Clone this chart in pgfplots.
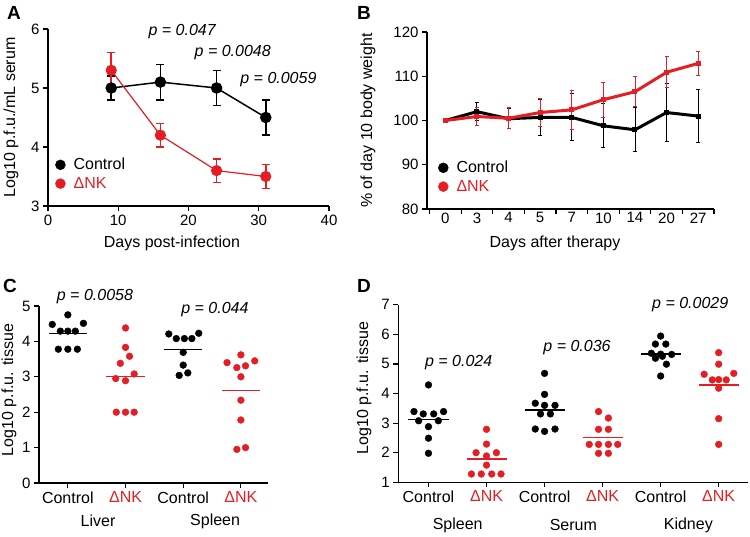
\documentclass[border=0pt]{standalone}
\usepackage{fontspec}
\setmainfont{Liberation Sans}
\usepackage{pgfplots}
\pgfplotsset{compat=1.18}
\definecolor{myred}{RGB}{228,30,36}

\pgfplotsset{
  panel/.style={scale only axis, anchor=south west,
    axis x line*=bottom, axis y line*=left,
    axis line style={line width=1.2pt},
    every tick/.style={line width=1.2pt, black},
    major tick length=5pt, tick align=outside,
    tick label style={font=\fontsize{15}{17}\selectfont},
    label style={font=\fontsize{16}{19}\selectfont},
    /pgf/number format/assume math mode=true,
    clip=false},
  dotlegend/.style={legend style={draw=none, fill=none, inner sep=0pt,
      font=\fontsize{16}{19}\selectfont, legend cell align=left, row sep=2pt,
      /tikz/every odd column/.append style={column sep=6pt}},
    legend image code/.code={\fill[##1] (0pt,0pt) circle (5pt);}},
  meanline/.style={line width=1.5pt, no markers, forget plot},
  dots/.style={only marks, mark=*, mark size=3.4pt, forget plot},
}
\newcommand{\pval}{\itshape\fontsize{16}{19}\selectfont}

\begin{document}
\begin{tikzpicture}
\useasboundingbox (0,0) rectangle (750pt,536pt);

% panel letters
\node[font=\bfseries\fontsize{19}{21}\selectfont] at (14pt,523pt) {A};
\node[font=\bfseries\fontsize{19}{21}\selectfont] at (364pt,523pt) {B};
\node[font=\bfseries\fontsize{19}{21}\selectfont] at (10pt,250pt) {C};
\node[font=\bfseries\fontsize{19}{21}\selectfont] at (364pt,250pt) {D};

% ---------- A ----------
\begin{axis}[panel, dotlegend, at={(48pt,330pt)}, width=281pt, height=177pt,
  xmin=0, xmax=40, ymin=3, ymax=6, xtick={0,10,...,40}, ytick={3,4,5,6},
  xlabel={Days post-infection}, ylabel={Log10 p.f.u./mL serum},
  xlabel style={at={(axis description cs:0.441,-0.209)}, anchor=center},
  ylabel style={at={(axis description cs:-0.132,0.5)}, anchor=center},
  legend style={at={(rel axis cs:0.025,0.282)}, anchor=north west}]
\addplot[black, line width=1.5pt, mark=*, mark size=5pt, forget plot,
  error bars/.cd, y dir=both, y explicit,
  error bar style={line width=1.5pt},
  error mark options={rotate=90, mark size=4pt, line width=1.5pt}]
  coordinates {(9,5.0) +- (0,0.2) (16,5.1) +- (0,0.3) (24,5.0) +- (0,0.3) (31,4.5) +- (0,0.3)};
\addplot[myred, line width=1.2pt, mark=*, mark size=5pt, forget plot,
  error bars/.cd, y dir=both, y explicit,
  error bar style={line width=1.5pt},
  error mark options={rotate=90, mark size=4pt, line width=1.5pt}]
  coordinates {(9,5.3) +- (0,0.3) (16,4.2) +- (0,0.2) (24,3.6) +- (0,0.2) (31,3.5) +- (0,0.2)};
\addlegendimage{black}\addlegendentry{Control}
\addlegendimage{myred}\addlegendentry{\textcolor{myred}{ΔNK}}
\node[font=\pval] at (axis cs:19.1,5.95) {p = 0.047};
\node[font=\pval] at (axis cs:26.3,5.6) {p = 0.0048};
\node[font=\pval] at (axis cs:32.8,5.14) {p = 0.0059};
\end{axis}

% ---------- B ----------
\begin{axis}[panel, dotlegend, at={(427pt,327pt)}, width=287pt, height=177pt,
  xmin=-0.58, xmax=8.5, ymin=80, ymax=120, ytick={80,90,...,120},
  xtick={-0.5,0.5,...,8.5}, xticklabels={,,,,,,,,,,},
  extra x ticks={0,1,...,8}, extra x tick labels={0,3,4,5,7,10,14,20,27},
  extra x tick style={major tick length=0pt},
  xlabel={Days after therapy}, ylabel={\% of day 10 body weight},
  xlabel style={at={(axis description cs:0.446,-0.192)}, anchor=center},
  ylabel style={at={(axis description cs:-0.206,0.5)}, anchor=center},
  legend style={at={(rel axis cs:0.038,0.282)}, anchor=north west}]
\addplot[black, line width=3pt, mark=square*, mark size=1pt, forget plot,
  error bars/.cd, y dir=both, y explicit,
  error bar style={line width=0.9pt},
  error mark options={rotate=90, mark size=2pt, line width=0.9pt}]
  coordinates {(0,100.0) +- (0,0) (1,102.0) +- (0,2.1) (2,100.4) +- (0,2.3)
    (3,100.7) +- (0,4.0) (4,100.7) +- (0,5.3) (5,98.8) +- (0,5.0)
    (6,97.9) +- (0,5.0) (7,101.8) +- (0,6.6) (8,101.0) +- (0,6.0)};
\addplot[myred, line width=3pt, mark=square*, mark size=1pt, forget plot,
  error bars/.cd, y dir=both, y explicit,
  error bar style={line width=0.9pt},
  error mark options={rotate=90, mark size=2pt, line width=0.9pt}]
  coordinates {(0,100.0) +- (0,0) (1,100.9) +- (0,2.1) (2,100.5) +- (0,2.4)
    (3,101.8) +- (0,3.2) (4,102.4) +- (0,4.5) (5,104.7) +- (0,4.0)
    (6,106.5) +- (0,3.4) (7,110.9) +- (0,3.5) (8,112.9) +- (0,2.8)};
\addlegendimage{black}\addlegendentry{Control}
\addlegendimage{myred}\addlegendentry{\textcolor{myred}{ΔNK}}
\end{axis}

% ---------- C ----------
\begin{axis}[panel, at={(39pt,53pt)}, width=229pt, height=177pt,
  xmin=-0.5, xmax=3.47, ymin=0, ymax=5, ytick={0,1,...,5},
  xtick={0,1,2,3},
  xticklabels={Control,{\textcolor{myred}{ΔNK}},Control,{\textcolor{myred}{ΔNK}}},
  x tick label style={font=\fontsize{16}{19}\selectfont},
  ylabel={Log10 p.f.u. tissue},
  ylabel style={at={(axis description cs:-0.131,0.525)}, anchor=center}]
% liver
\addplot[dots, black] coordinates {(0,4.75) (-0.27,4.48) (0.27,4.51) (-0.13,4.29) (0,4.29) (0.13,4.29)
  (-0.165,3.78) (0,3.78) (0.165,3.78)};
\addplot[meanline, black] coordinates {(-0.33,4.22) (0.33,4.22)};
\addplot[dots, myred] coordinates {(1,4.38) (1,3.83) (1.07,3.58) (0.91,3.38) (1.15,3.08) (0.83,2.95)
  (1,2.89) (0.84,2.0) (1,2.0) (1.15,2.0)};
\addplot[meanline, myred] coordinates {(0.67,3.01) (1.33,3.01)};
% spleen
\addplot[dots, black] coordinates {(1.75,4.21) (1.88,4.08) (2.02,4.08) (2.15,4.08) (2.27,4.23)
  (2,3.69) (2,3.33) (1.93,3.04) (2.08,3.11)};
\addplot[meanline, black] coordinates {(1.67,3.77) (2.33,3.77)};
\addplot[dots, myred] coordinates {(3,3.62) (2.76,3.40) (2.93,3.26) (3.08,3.31) (3.24,3.45) (3,3.0)
  (3,2.34) (3,1.78) (2.93,0.95) (3.08,1.0)};
\addplot[meanline, myred] coordinates {(2.67,2.62) (3.33,2.62)};
\node[font=\pval] at (axis cs:0.47,5.28) {p = 0.0058};
\node[font=\pval] at (axis cs:2.55,4.9) {p = 0.044};
\node[font=\fontsize{16}{19}\selectfont] at (axis description cs:0.258,-0.215) {Liver};
\node[font=\fontsize{16}{19}\selectfont] at (axis description cs:0.769,-0.215) {Spleen};
\end{axis}

% ---------- D ----------
\begin{axis}[panel, at={(398.3pt,53.7pt)}, width=349.4pt, height=177.6pt,
  xmin=-0.52, xmax=5.5, ymin=1, ymax=7, ytick={1,2,...,7},
  xtick={0,1,...,5},
  xticklabels={Control,{\textcolor{myred}{ΔNK}},Control,{\textcolor{myred}{ΔNK}},Control,{\textcolor{myred}{ΔNK}}},
  x tick label style={font=\fontsize{16}{19}\selectfont},
  ylabel={Log10 p.f.u. tissue},
  ylabel style={at={(axis description cs:-0.098,0.53)}, anchor=center}]
% spleen
\addplot[dots, black] coordinates {(0,4.29) (-0.25,3.39) (-0.09,3.31) (0.09,3.31) (0.26,3.39)
  (-0.17,3.08) (0.17,3.08) (0,2.88) (0,2.49) (0,1.98)};
\addplot[meanline, black] coordinates {(-0.345,3.13) (0.345,3.13)};
\addplot[dots, myred] coordinates {(1,2.79) (1,2.29) (0.82,2.0) (1.17,2.0) (1,1.89) (1,1.58)
  (0.74,1.28) (0.91,1.28) (1.09,1.28) (1.25,1.28)};
\addplot[meanline, myred] coordinates {(0.655,1.78) (1.345,1.78)};
% serum
\addplot[dots, black] coordinates {(2,4.68) (2,3.97) (1.84,3.67) (2,3.60) (2.18,3.60) (1.93,3.31)
  (2.1,3.31) (1.84,2.80) (2,2.72) (2.18,2.80)};
\addplot[meanline, black] coordinates {(1.655,3.44) (2.345,3.44)};
\addplot[dots, myred] coordinates {(2.93,3.39) (3.1,3.17) (2.93,2.79) (3.1,2.79) (2.77,2.28)
  (2.93,2.28) (3.1,2.28) (3.26,2.28) (2.93,1.98) (3.1,1.98)};
\addplot[meanline, myred] coordinates {(2.655,2.52) (3.345,2.52)};
% kidney
\addplot[dots, black] coordinates {(4,5.94) (3.91,5.67) (4.09,5.67) (3.84,5.36) (4.0,5.33) (4.19,5.32)
  (3.91,5.19) (4.03,5.26) (4.1,4.99) (4,4.59)};
\addplot[meanline, black] coordinates {(3.655,5.33) (4.345,5.33)};
\addplot[dots, myred] coordinates {(5,5.38) (5,4.99) (4.75,4.65) (5.26,4.68) (4.89,4.46) (5,4.47)
  (5.13,4.46) (5,4.18) (5,3.15) (5,2.28)};
\addplot[meanline, myred] coordinates {(4.655,4.28) (5.345,4.28)};
\node[font=\pval] at (axis cs:0.52,5.03) {p = 0.024};
\node[font=\pval] at (axis cs:2.56,5.54) {p = 0.036};
\node[font=\pval] at (axis cs:4.51,7.0) {p = 0.0029};
\node[font=\fontsize{16}{19}\selectfont] at (axis description cs:0.17,-0.24) {Spleen};
\node[font=\fontsize{16}{19}\selectfont] at (axis description cs:0.501,-0.24) {Serum};
\node[font=\fontsize{16}{19}\selectfont] at (axis description cs:0.83,-0.24) {Kidney};
\end{axis}
\end{tikzpicture}
\end{document}
